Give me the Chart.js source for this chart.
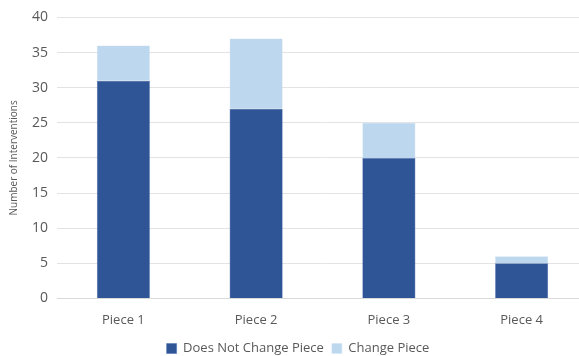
<!DOCTYPE html>
<html lang="en">
<head>
  <meta charset="UTF-8" />
  <title>Interventions per Piece</title>
  <script src="https://cdn.jsdelivr.net/npm/chart.js"></script>
  <style>
    html, body { margin: 0; padding: 0; background: #fff; overflow: hidden; }
    .chart-wrap { width: 590px; height: 365px; }
  </style>
</head>
<body>
  <div class="chart-wrap"><canvas id="graficoBarra"></canvas></div>

  <script>
    const pieces = ['Piece 1', 'Piece 2', 'Piece 3', 'Piece 4'];
    const doesNotChange = [31, 27, 20, 5];
    const changes = [5, 10, 5, 1];

    const textColor = '#595959';
    const font = "'Open Sans', 'Noto Sans', sans-serif";

    const ctx = document.getElementById('graficoBarra').getContext('2d');
    new Chart(ctx, {
      type: 'bar',
      data: {
        labels: pieces,
        datasets: [
          {
            label: 'Does Not Change Piece',
            data: doesNotChange,
            backgroundColor: '#2F5597',
            borderColor: '#4A6FB0',
            borderWidth: 0.5
          },
          {
            label: 'Change Piece',
            data: changes,
            backgroundColor: '#BDD7EE',
            borderColor: '#D3E4F4',
            borderWidth: 0.5
          }
        ]
      },
      options: {
        responsive: true,
        maintainAspectRatio: false,
        animation: false,
        layout: { padding: { top: 0, right: 2, left: 8, bottom: 0 } },
        datasets: {
          bar: { categoryPercentage: 1, barPercentage: 0.4 }
        },
        scales: {
          x: {
            stacked: true,
            grid: { display: false },
            border: { color: '#D9D9D9' },
            ticks: { color: textColor, font: { family: font, size: 13 }, padding: 6 }
          },
          y: {
            stacked: true,
            min: 0,
            max: 40,
            ticks: { stepSize: 5, color: textColor, font: { family: font, size: 14 }, padding: 9 },
            grid: { color: '#E3E3E3', drawTicks: false },
            border: { display: false },
            title: {
              display: true,
              text: 'Number of Interventions',
              color: textColor,
              font: { family: font, size: 10 },
              padding: { top: 0, bottom: 3 }
            }
          }
        },
        plugins: {
          legend: {
            position: 'bottom',
            labels: {
              color: textColor,
              font: { family: font, size: 13 },
              boxWidth: 10,
              boxHeight: 10,
              padding: 8
            }
          },
          tooltip: { enabled: false }
        }
      }
    });
  </script>
</body>
</html>
